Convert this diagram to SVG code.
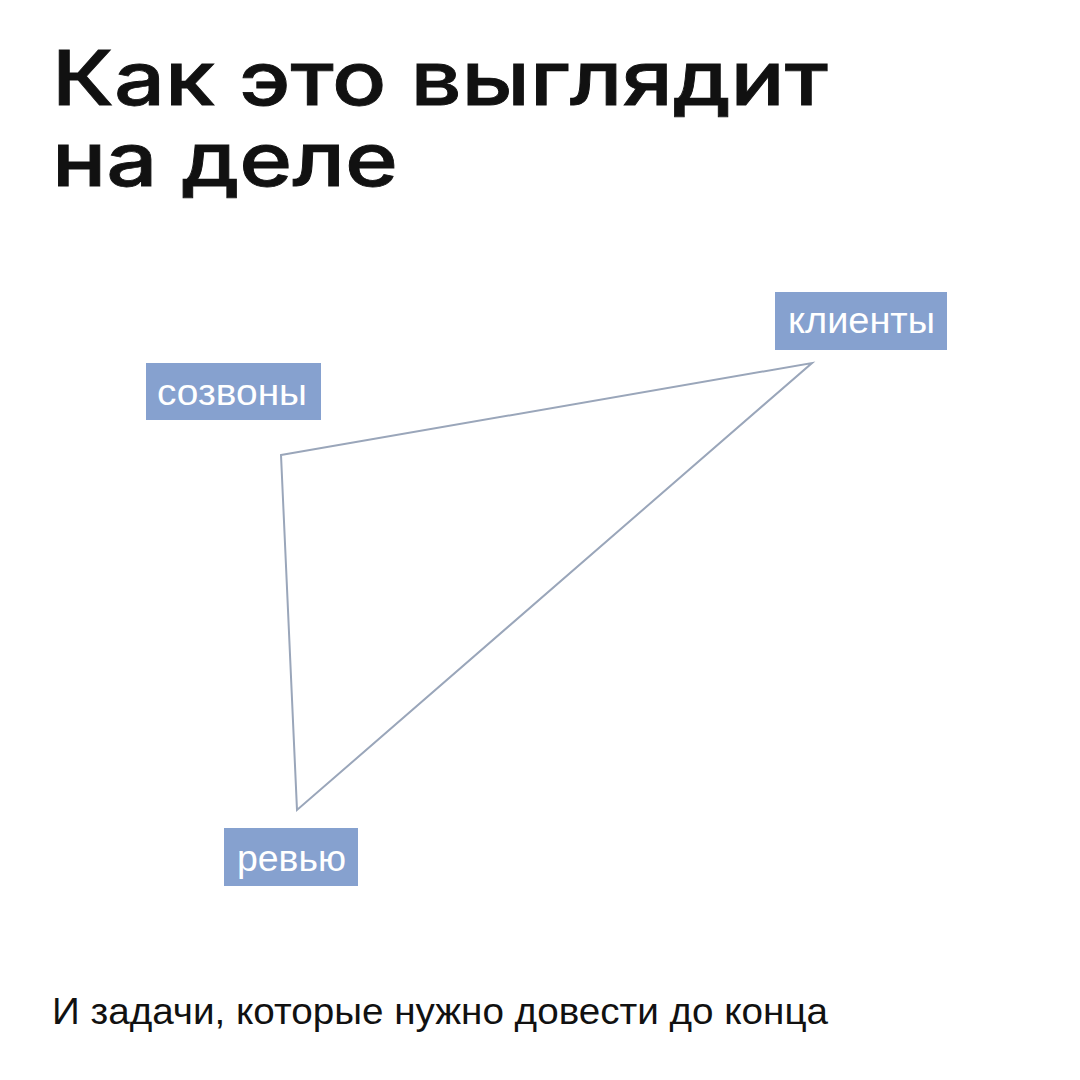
<svg xmlns="http://www.w3.org/2000/svg" width="1080" height="1080" viewBox="0 0 1080 1080">
<style>
.title{font-family:Inter,"Liberation Sans",sans-serif;font-weight:500;font-size:75px;fill:#111111}
.box{fill:#86A1CF}
.lbl{font-family:"Liberation Sans",Arial,sans-serif;font-size:37px;fill:#ffffff}
.edge{fill:none;stroke:#9AA6BA;stroke-width:2;stroke-linejoin:miter}
.foot{font-family:"Liberation Sans",Arial,sans-serif;font-size:37px;fill:#111111}
</style>
<rect width="1080" height="1080" fill="#ffffff"/>
<g id="title">
<text class="title" x="52" y="105" textLength="776" lengthAdjust="spacingAndGlyphs" stroke="#111111" stroke-width="0.8">Как это выглядит</text>
<text class="title" x="52" y="186" textLength="346" lengthAdjust="spacingAndGlyphs" stroke="#111111" stroke-width="0.8">на деле</text>
</g>
<g id="connectors">
<polygon class="edge" points="281,455 812,363 297,810"/>
</g>
<g id="node-sozvony">
<rect class="box" x="146" y="363" width="175" height="57"/>
<text class="lbl" x="157" y="405" textLength="150" lengthAdjust="spacingAndGlyphs">созвоны</text>
</g>
<g id="node-klienty">
<rect class="box" x="775" y="292" width="172" height="58"/>
<text class="lbl" x="788" y="333" textLength="147" lengthAdjust="spacingAndGlyphs">клиенты</text>
</g>
<g id="node-revyu">
<rect class="box" x="224" y="828" width="134" height="58"/>
<text class="lbl" x="237" y="871" textLength="109" lengthAdjust="spacingAndGlyphs">ревью</text>
</g>
<g id="footer">
<text class="foot" x="52" y="1024" textLength="776" lengthAdjust="spacingAndGlyphs">И задачи, которые нужно довести до конца</text>
</g>
</svg>
